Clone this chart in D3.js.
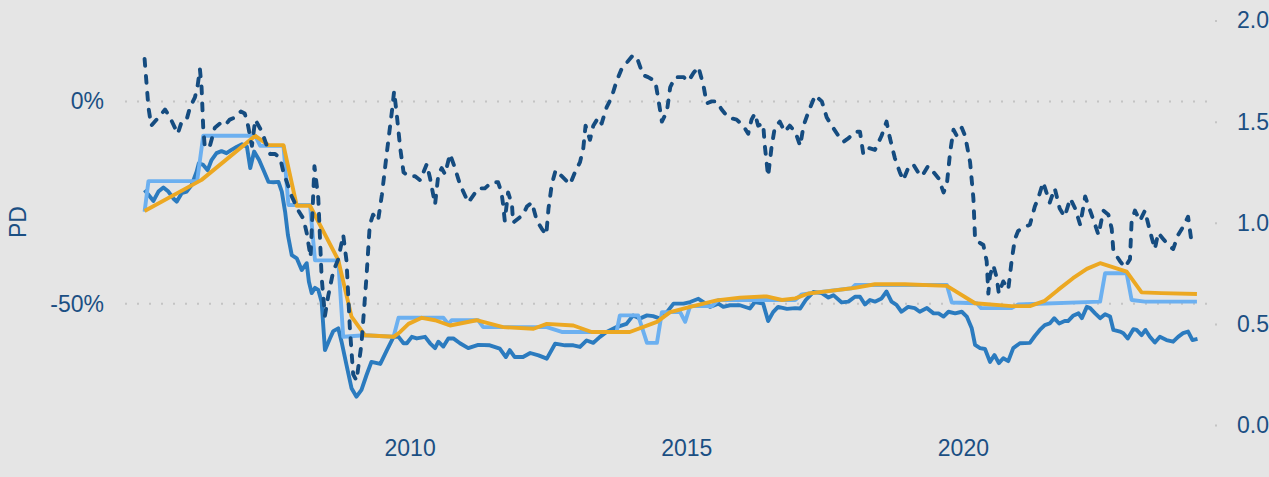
<!DOCTYPE html>
<html>
<head>
<meta charset="utf-8">
<script src="https://cdn.jsdelivr.net/npm/d3@7"></script>
<style>
  html, body { margin: 0; padding: 0; background: #e5e5e5; }
  svg { display: block; }
</style>
</head>
<body>
<svg id="chart"></svg>
<script>
// ratio series (right axis), [year, value]
const ratio = [[2005.21,1.81],[2005.28,1.57],[2005.33,1.48],[2005.49,1.53],[2005.58,1.56],[2005.67,1.52],[2005.81,1.44],[2005.88,1.50],[2005.97,1.51],[2006.03,1.57],[2006.12,1.62],[2006.17,1.68],[2006.21,1.76],[2006.24,1.67],[2006.27,1.47],[2006.30,1.37],[2006.39,1.38],[2006.48,1.47],[2006.57,1.49],[2006.66,1.48],[2006.75,1.51],[2006.84,1.52],[2006.95,1.55],[2007.02,1.54],[2007.08,1.48],[2007.15,1.38],[2007.21,1.51],[2007.33,1.45],[2007.42,1.38],[2007.48,1.34],[2007.57,1.34],[2007.66,1.32],[2007.72,1.25],[2007.87,1.13],[2007.99,1.06],[2008.08,1.02],[2008.14,0.95],[2008.21,0.83],[2008.28,1.28],[2008.35,1.12],[2008.41,0.73],[2008.47,0.54],[2008.53,0.64],[2008.62,0.76],[2008.71,0.82],[2008.80,0.94],[2008.86,0.81],[2008.92,0.48],[2008.98,0.25],[2009.04,0.22],[2009.13,0.40],[2009.22,0.73],[2009.28,0.99],[2009.34,1.04],[2009.43,1.01],[2009.50,1.14],[2009.59,1.35],[2009.68,1.55],[2009.72,1.65],[2009.77,1.53],[2009.83,1.37],[2009.89,1.25],[2009.98,1.23],[2010.10,1.23],[2010.19,1.21],[2010.31,1.29],[2010.37,1.22],[2010.46,1.09],[2010.52,1.24],[2010.58,1.27],[2010.64,1.24],[2010.73,1.34],[2010.82,1.27],[2010.91,1.19],[2011.06,1.10],[2011.24,1.17],[2011.36,1.17],[2011.48,1.20],[2011.60,1.20],[2011.66,1.15],[2011.69,1.09],[2011.72,1.01],[2011.78,1.15],[2011.85,1.09],[2011.87,1.00],[2011.96,1.02],[2012.05,1.04],[2012.12,1.08],[2012.21,1.10],[2012.30,1.01],[2012.39,0.97],[2012.47,0.94],[2012.51,1.07],[2012.57,1.19],[2012.64,1.26],[2012.75,1.23],[2012.90,1.19],[2012.99,1.25],[2013.08,1.30],[2013.14,1.37],[2013.18,1.48],[2013.26,1.41],[2013.32,1.48],[2013.41,1.52],[2013.47,1.49],[2013.56,1.57],[2013.65,1.62],[2013.74,1.70],[2013.83,1.76],[2013.92,1.79],[2014.04,1.83],[2014.13,1.80],[2014.22,1.73],[2014.31,1.72],[2014.44,1.70],[2014.49,1.62],[2014.56,1.50],[2014.65,1.55],[2014.71,1.67],[2014.80,1.72],[2014.95,1.72],[2015.04,1.70],[2015.13,1.74],[2015.22,1.77],[2015.31,1.68],[2015.37,1.59],[2015.46,1.60],[2015.55,1.60],[2015.64,1.56],[2015.76,1.52],[2015.91,1.51],[2016.03,1.48],[2016.12,1.44],[2016.18,1.51],[2016.24,1.54],[2016.30,1.48],[2016.39,1.49],[2016.42,1.38],[2016.48,1.23],[2016.54,1.37],[2016.60,1.47],[2016.69,1.50],[2016.78,1.45],[2016.87,1.48],[2016.97,1.45],[2017.06,1.38],[2017.12,1.48],[2017.21,1.55],[2017.33,1.63],[2017.45,1.60],[2017.54,1.52],[2017.63,1.48],[2017.75,1.43],[2017.84,1.40],[2017.94,1.42],[2018.05,1.45],[2018.14,1.45],[2018.20,1.34],[2018.29,1.37],[2018.41,1.36],[2018.53,1.43],[2018.62,1.50],[2018.68,1.42],[2018.77,1.32],[2018.86,1.25],[2018.92,1.21],[2019.01,1.27],[2019.10,1.29],[2019.19,1.25],[2019.26,1.23],[2019.37,1.28],[2019.47,1.25],[2019.56,1.22],[2019.65,1.15],[2019.71,1.19],[2019.77,1.35],[2019.83,1.46],[2019.89,1.43],[2019.98,1.47],[2020.04,1.43],[2020.13,1.30],[2020.19,1.12],[2020.22,0.92],[2020.31,0.90],[2020.37,0.89],[2020.43,0.81],[2020.46,0.65],[2020.49,0.74],[2020.55,0.79],[2020.61,0.73],[2020.65,0.65],[2020.73,0.71],[2020.82,0.67],[2020.88,0.81],[2020.94,0.92],[2021.00,0.96],[2021.12,0.98],[2021.21,0.99],[2021.30,1.08],[2021.36,1.12],[2021.45,1.20],[2021.57,1.10],[2021.66,1.17],[2021.75,1.07],[2021.84,1.03],[2021.94,1.12],[2022.03,1.07],[2022.12,0.99],[2022.21,1.13],[2022.30,1.06],[2022.39,0.99],[2022.45,0.94],[2022.54,1.06],[2022.63,1.04],[2022.69,0.97],[2022.72,0.86],[2022.84,0.81],[2022.93,0.78],[2023.02,0.82],[2023.05,1.01],[2023.11,1.06],[2023.20,1.01],[2023.29,1.06],[2023.38,0.96],[2023.47,0.87],[2023.53,0.95],[2023.62,0.92],[2023.71,0.89],[2023.80,0.87],[2023.89,0.94],[2023.98,0.98],[2024.07,1.03],[2024.13,0.91],[2024.18,0.91]]

// drawdown series (left axis, %)
const drawdown = [[2005.21,-21.9],[2005.28,-23.1],[2005.37,-24.6],[2005.46,-22.3],[2005.55,-21.3],[2005.64,-22.3],[2005.73,-24.0],[2005.79,-24.8],[2005.88,-22.7],[2005.97,-22.3],[2006.06,-20.7],[2006.15,-17.4],[2006.19,-15.3],[2006.27,-15.7],[2006.35,-17.0],[2006.42,-14.5],[2006.51,-12.8],[2006.60,-12.3],[2006.69,-12.8],[2006.78,-12.0],[2006.88,-11.2],[2006.97,-10.6],[2007.06,-11.2],[2007.12,-16.5],[2007.19,-12.4],[2007.28,-14.5],[2007.36,-17.0],[2007.45,-19.9],[2007.54,-20.0],[2007.63,-19.9],[2007.69,-22.3],[2007.75,-27.3],[2007.80,-33.0],[2007.87,-38.0],[2007.96,-38.8],[2008.05,-41.7],[2008.14,-40.0],[2008.18,-44.6],[2008.23,-47.4],[2008.29,-46.1],[2008.35,-46.6],[2008.41,-49.6],[2008.47,-61.5],[2008.56,-58.6],[2008.62,-56.8],[2008.71,-56.1],[2008.77,-59.4],[2008.86,-65.2],[2008.95,-70.9],[2009.04,-73.0],[2009.13,-71.3],[2009.22,-67.7],[2009.31,-64.4],[2009.47,-64.9],[2009.59,-61.5],[2009.71,-58.2],[2009.80,-58.2],[2009.89,-59.8],[2009.95,-59.8],[2010.04,-58.2],[2010.13,-58.6],[2010.28,-58.2],[2010.37,-59.8],[2010.46,-61.0],[2010.52,-59.4],[2010.61,-60.6],[2010.70,-58.6],[2010.79,-58.6],[2010.91,-59.8],[2011.06,-61.0],[2011.24,-60.2],[2011.45,-60.3],[2011.63,-61.1],[2011.74,-63.2],[2011.81,-61.5],[2011.90,-63.2],[2012.05,-63.2],[2012.18,-62.2],[2012.33,-62.8],[2012.48,-63.6],[2012.63,-59.9],[2012.81,-60.3],[2012.96,-60.3],[2013.08,-60.7],[2013.20,-59.1],[2013.32,-59.7],[2013.44,-58.2],[2013.56,-57.0],[2013.74,-55.8],[2013.92,-55.0],[2014.04,-52.9],[2014.16,-53.7],[2014.29,-52.9],[2014.40,-53.1],[2014.53,-53.7],[2014.65,-52.1],[2014.77,-50.0],[2014.95,-50.0],[2015.07,-49.6],[2015.22,-48.8],[2015.31,-49.6],[2015.43,-50.8],[2015.58,-50.0],[2015.67,-50.8],[2015.79,-50.4],[2015.97,-50.4],[2016.15,-51.2],[2016.24,-49.6],[2016.39,-50.0],[2016.48,-54.3],[2016.57,-52.1],[2016.66,-50.8],[2016.82,-51.3],[2016.97,-51.1],[2017.06,-51.2],[2017.16,-49.1],[2017.30,-47.1],[2017.45,-47.4],[2017.57,-48.5],[2017.66,-47.9],[2017.81,-49.7],[2017.93,-49.5],[2018.05,-48.3],[2018.14,-48.3],[2018.23,-50.2],[2018.32,-49.1],[2018.41,-49.5],[2018.53,-48.7],[2018.62,-47.0],[2018.71,-49.5],[2018.80,-50.3],[2018.89,-52.0],[2019.01,-50.8],[2019.13,-51.1],[2019.22,-52.0],[2019.35,-51.1],[2019.47,-52.4],[2019.56,-52.4],[2019.65,-53.2],[2019.74,-52.0],[2019.86,-52.4],[2019.98,-52.0],[2020.07,-53.2],[2020.16,-56.1],[2020.22,-60.2],[2020.31,-61.0],[2020.40,-61.2],[2020.49,-64.4],[2020.57,-62.7],[2020.65,-64.7],[2020.73,-63.5],[2020.82,-64.2],[2020.91,-61.0],[2021.03,-59.8],[2021.21,-59.7],[2021.30,-58.0],[2021.39,-56.5],[2021.48,-55.3],[2021.57,-54.9],[2021.65,-53.6],[2021.74,-54.9],[2021.84,-54.3],[2021.90,-54.3],[2021.99,-53.0],[2022.09,-52.4],[2022.15,-53.6],[2022.24,-50.8],[2022.30,-51.1],[2022.39,-52.4],[2022.48,-53.6],[2022.57,-52.6],[2022.66,-53.2],[2022.72,-56.5],[2022.84,-56.9],[2022.90,-57.3],[2022.98,-58.6],[2023.08,-56.3],[2023.14,-56.5],[2023.23,-57.8],[2023.30,-56.5],[2023.38,-58.2],[2023.47,-59.6],[2023.56,-58.2],[2023.68,-59.0],[2023.80,-59.4],[2023.89,-58.2],[2023.98,-57.3],[2024.07,-56.9],[2024.15,-59.0],[2024.24,-58.7]]

// stepped estimate (left axis, %)
const stepped = [[2005.21,-27.3],[2005.28,-19.7],[2006.16,-19.7],[2006.27,-8.5],[2007.21,-8.5],[2007.30,-11.0],[2007.72,-11.0],[2007.81,-25.6],[2008.20,-25.6],[2008.29,-39.3],[2008.71,-39.3],[2008.80,-58.2],[2009.19,-57.8],[2009.71,-58.2],[2009.80,-53.5],[2010.61,-53.5],[2010.70,-55.1],[2010.76,-54.1],[2011.24,-54.1],[2011.33,-55.8],[2012.48,-55.8],[2012.75,-57.0],[2013.74,-57.0],[2013.80,-52.9],[2014.13,-52.9],[2014.29,-59.7],[2014.47,-59.7],[2014.56,-52.1],[2014.89,-52.1],[2014.98,-54.5],[2015.07,-50.6],[2015.46,-50.6],[2015.58,-49.1],[2016.97,-49.1],[2017.09,-47.7],[2017.51,-47.0],[2017.99,-46.2],[2018.05,-45.4],[2019.71,-45.4],[2019.80,-49.7],[2020.25,-49.9],[2020.33,-51.1],[2020.88,-51.1],[2021.00,-50.2],[2022.48,-49.5],[2022.57,-42.5],[2022.96,-42.5],[2023.05,-49.1],[2023.29,-49.5],[2024.23,-49.5]]

// smoothed estimate (left axis, %)
const smoothed = [[2005.21,-27.1],[2006.24,-19.4],[2007.21,-8.5],[2007.45,-10.8],[2007.72,-10.8],[2007.96,-25.8],[2008.20,-25.8],[2008.71,-39.2],[2008.95,-53.2],[2009.19,-57.8],[2009.71,-58.2],[2009.83,-57.0],[2009.98,-55.0],[2010.22,-53.5],[2010.46,-54.1],[2010.73,-55.4],[2011.21,-54.1],[2011.69,-55.8],[2012.24,-56.2],[2012.48,-55.0],[2012.96,-55.4],[2013.29,-57.0],[2013.98,-57.0],[2014.47,-54.5],[2014.71,-52.1],[2015.07,-50.8],[2015.55,-49.2],[2015.97,-48.5],[2016.45,-48.2],[2016.73,-49.1],[2016.97,-48.7],[2017.21,-47.5],[2017.57,-46.9],[2018.05,-46.1],[2018.41,-45.2],[2018.95,-45.2],[2019.71,-45.6],[2020.22,-49.9],[2020.88,-50.6],[2021.21,-50.6],[2021.48,-49.3],[2021.72,-46.6],[2021.99,-43.7],[2022.24,-41.4],[2022.48,-40.0],[2022.96,-42.1],[2023.23,-47.2],[2023.59,-47.4],[2024.23,-47.6]]

const yearTicks = [2010, 2015, 2020]
const leftTicks = [0, -50]
const rightTicks = [0, 0.5, 1, 1.5, 2]

let W = 1269, H = 477
let textColor = '#1b4f83'
let font = '23px "Liberation Sans", Arial, sans-serif'

let svg = d3.select('#chart').attr('width', W).attr('height', H)

svg.append('rect').attr('width', W).attr('height', H).attr('fill', '#e5e5e5')

let x = d3.scaleLinear().domain([2004.856, 2024.412]).range([125, 1207])
let yL = d3.scaleLinear().domain([-80, 20]).range([425, 20.5])
let yR = d3.scaleLinear().domain([0, 2]).range([425, 20.5])

// dotted grid lines for the left axis
svg.append('g')
	.selectAll('line')
	.data(leftTicks)
	.join('line')
	.attr('x1', 125)
	.attr('x2', 1208)
	.attr('y1', d => yL(d))
	.attr('y2', d => yL(d))
	.attr('stroke', '#c4c4c4')
	.attr('stroke-width', 2)
	.attr('stroke-dasharray', '2,10')

let styleAxis = g => {
	g.select('.domain').remove()
	g.selectAll('text').style('font', font).attr('fill', textColor)
}

svg.append('g')
	.attr('transform', 'translate(125,0)')
	.call(d3.axisLeft(yL).tickValues(leftTicks).tickSize(0).tickPadding(21).tickFormat(d => d + '%'))
	.call(styleAxis)

svg.append('g')
	.attr('transform', 'translate(1215,0)')
	.call(d3.axisRight(yR).tickValues(rightTicks).tickSize(2).tickPadding(20).tickFormat(d3.format('.1f')))
	.call(styleAxis)
	.call(g => g.selectAll('.tick line').attr('stroke', '#c4c4c4').attr('stroke-width', 2))

svg.append('g')
	.attr('transform', 'translate(0,425)')
	.call(d3.axisBottom(x).tickValues(yearTicks).tickSize(0).tickPadding(15).tickFormat(d3.format('d')))
	.call(styleAxis)

svg.append('text')
	.attr('transform', 'translate(26,222) rotate(-90)')
	.attr('text-anchor', 'middle')
	.style('font', font)
	.attr('fill', textColor)
	.text('PD')

let lineL = d3.line().x(d => x(d[0])).y(d => yL(d[1]))
let lineR = d3.line().x(d => x(d[0])).y(d => yR(d[1]))

let lines = svg.append('g').attr('fill', 'none').attr('stroke-width', 3.9).attr('stroke-linejoin', 'round')

lines.append('path').datum(drawdown).attr('d', lineL).attr('stroke', '#2b7bbf')
lines.append('path').datum(stepped).attr('d', lineL).attr('stroke', '#6cb0f0')
lines.append('path').datum(smoothed).attr('d', lineL).attr('stroke', '#eca822')
lines.append('path').datum(ratio).attr('d', lineR)
	.attr('stroke', '#154c80')
	.attr('stroke-linecap', 'round')
	.attr('stroke-dasharray', '7,10')
</script>
</body>
</html>
